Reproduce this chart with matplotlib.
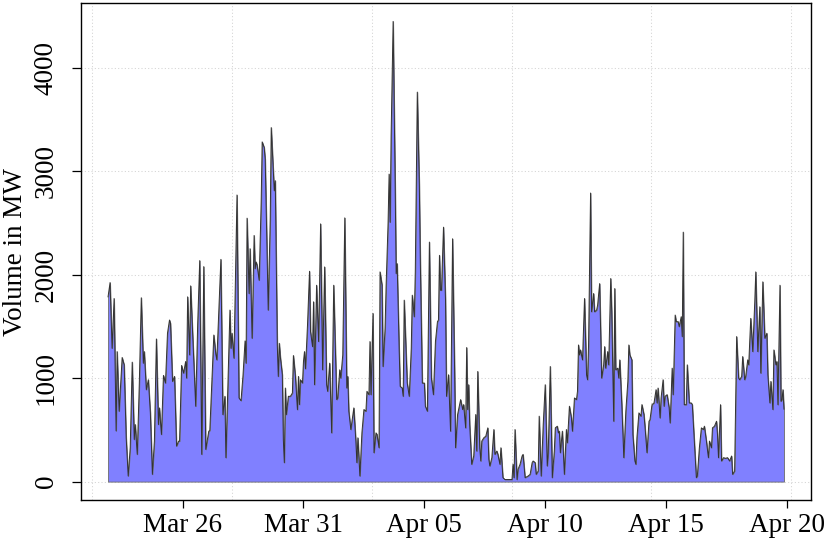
import numpy as np
import pandas as pd
import matplotlib
matplotlib.use("Agg")
import matplotlib.pyplot as plt

plt.rcParams["font.family"] = ["Liberation Serif", "DejaVu Serif"]
FS = 19.5

# --- data: hourly volume (hours after series start) ---
start = pd.Timestamp("2015-03-22 22:00")

hours = [
    0, 2, 4, 6, 8, 9, 11, 13, 14, 16,
    18, 20, 22, 24, 26, 27, 29, 31, 33, 35,
    36, 38, 40, 42, 44, 46, 48, 50, 51, 53,
    55, 57, 59, 61, 62, 64, 66, 68, 70, 71,
    73, 75, 77, 78, 79, 81, 82, 84, 87, 89,
    91, 93, 95, 97, 100, 101, 103, 105, 107, 108,
    109, 112, 114, 116, 117, 119, 121, 122, 123, 125,
    128, 130, 132, 134, 136, 137, 138, 140, 141, 143,
    145, 146, 147, 148, 150, 152, 153, 155, 156, 159,
    161, 162, 165, 166, 168, 169, 170, 171, 173, 174,
    175, 176, 177, 179, 181, 183, 184, 186, 188, 189,
    190, 191, 193, 194, 195, 196, 198, 200, 201, 203,
    204, 205, 207, 209, 211, 213, 215, 217, 218, 220,
    222, 224, 227, 228, 230, 231, 233, 235, 237, 238,
    239, 241, 244, 246, 247, 248, 250, 252, 254, 256,
    257, 259, 260, 261, 263, 264, 266, 267, 269, 270,
    272, 273, 275, 276, 278, 279, 280, 281, 283, 285,
    286, 287, 289, 290, 292, 293, 294, 297, 299, 301,
    302, 304, 305, 307, 309, 310, 312, 314, 315, 317,
    319, 321, 323, 325, 327, 328, 329, 330, 331, 333,
    335, 336, 338, 340, 342, 344, 345, 347, 350, 352,
    353, 355, 356, 357, 358, 359, 361, 363, 365, 366,
    367, 369, 370, 371, 373, 375, 377, 378, 379, 381,
    383, 384, 386, 387, 389, 390, 392, 394, 397, 400,
    401, 402, 403, 404, 406, 407, 409, 411, 412, 414,
    417, 419, 421, 422, 424, 425, 427, 428, 430, 432,
    434, 436, 437, 439, 441, 443, 444, 446, 447, 448,
    449, 451, 453, 455, 456, 458, 460, 461, 463, 465,
    466, 467, 468, 469, 471, 473, 475, 476, 477, 479,
    480, 482, 483, 485, 486, 488, 490, 492, 493, 494,
    496, 497, 499, 500, 502, 503, 504, 506, 507, 508,
    510, 512, 514, 516, 517, 518, 520, 521, 523, 524,
    525, 527, 529, 530, 532, 533, 535, 537, 538, 540,
    542, 544, 545, 546, 548, 549, 551, 552, 553, 555,
    557, 558, 560, 561, 563, 564, 566, 567, 569, 570,
    571, 572, 574, 575, 577, 579, 580, 582, 584, 585,
    587, 589, 591, 592, 594, 596, 597, 599, 600, 602,
    604, 605, 606, 608, 609, 611, 613, 615, 617, 619,
    620, 622, 624, 626, 627, 629, 630, 632, 633, 635,
    636, 638, 640, 642, 643, 645, 647, 648, 650, 652,
    654, 655, 657, 658, 660, 661, 663, 664, 665, 667,
    668, 669, 670, 671,
]

volume = [
    1785, 1923, 1288, 1769, 490, 1256, 680, 1032, 1199, 1128,
    423, 54, 327, 1154, 407, 551, 263, 936, 1776, 1144,
    1256, 888, 984, 664, 70, 391, 1378, 551, 712, 455,
    1026, 952, 1433, 1561, 1529, 968, 1016, 343, 391, 391,
    1122, 1048, 1160, 1000, 1785, 1224, 1891, 1416, 728, 1529,
    2135, 263, 2077, 311, 487, 493, 960, 1416, 1230, 1176,
    1416, 2147, 647, 824, 231, 936, 1657, 1288, 1433, 1192,
    2769, 808, 782, 1032, 1359, 1144, 2545, 1817, 2250, 1385,
    2378, 2058, 2122, 2090, 1945, 2699, 3282, 3228, 3115, 1657,
    2538, 3420, 2811, 2907, 1320, 1016, 1336, 1208, 1032, 407,
    183, 904, 647, 824, 824, 856, 1218, 1016, 695, 1016,
    744, 984, 952, 1160, 1256, 1090, 1513, 2032, 1449, 1304,
    1737, 936, 1897, 1353, 2490, 1080, 2074, 936, 872, 1144,
    471, 1897, 792, 808, 1080, 1000, 1224, 2548, 904, 1016,
    680, 503, 712, 391, 183, 423, 54, 471, 696, 680,
    872, 840, 1353, 840, 1625, 279, 471, 455, 327, 2026,
    1897, 1112, 1481, 1881, 2506, 2971, 2506, 3340, 4446, 2891,
    2010, 2106, 1272, 920, 904, 824, 1753, 952, 824, 1288,
    1801, 1593, 2026, 3763, 2859, 2122, 952, 952, 728, 680,
    2314, 1000, 840, 1353, 1545, 1561, 2186, 1849, 1849, 2458,
    1753, 824, 1032, 487, 2346, 1096, 327, 648, 792, 696,
    744, 519, 1295, 696, 936, 551, 167, 247, 648, 295,
    1064, 327, 199, 391, 423, 439, 519, 215, 151, 231,
    503, 263, 295, 263, 167, 327, 38, 20, 20, 20,
    20, 167, 38, 503, 20, 119, 167, 247, 263, 38,
    54, 70, 183, 199, 183, 70, 102, 632, 54, 551,
    936, 151, 279, 1112, 38, 295, 519, 535, 471, 487,
    279, 487, 70, 503, 375, 728, 615, 487, 808, 792,
    872, 1320, 1224, 1272, 1176, 1769, 1032, 984, 1320, 2788,
    1641, 1817, 1641, 1657, 1705, 1913, 1000, 1128, 1304, 1096,
    1256, 1128, 1962, 1641, 583, 1865, 1080, 1096, 1000, 1176,
    744, 231, 680, 968, 1320, 1224, 1176, 455, 199, 167,
    423, 664, 632, 744, 648, 535, 279, 583, 599, 744,
    760, 888, 760, 904, 615, 808, 984, 728, 824, 840,
    712, 567, 1096, 840, 1609, 1545, 1545, 1497, 1593, 1401,
    2410, 743, 743, 1128, 760, 760, 743, 391, 38, 54,
    327, 519, 503, 535, 391, 231, 391, 327, 519, 535,
    583, 455, 231, 743, 199, 231, 225, 231, 199, 247,
    70, 102, 1401, 1000, 984, 1016, 1208, 984, 1016, 1176,
    1128, 1577, 1256, 1737, 2026, 1256, 1689, 1048, 1930, 1385,
    1433, 1032, 760, 968, 696, 1272, 1128, 1160, 743, 1897,
    776, 791, 888, 700,
]
assert len(hours) == len(volume)

tick_dates = pd.date_range("2015-03-26", periods=6, freq="5D")
y_ticks = [0, 1000, 2000, 3000, 4000]

t = start + pd.to_timedelta(hours, unit="h")
v = np.array(volume, dtype=float)

# --- figure ---
fig = plt.figure(figsize=(8.3, 5.54), dpi=100)
ax = fig.add_axes([81 / 830, 1 - 500 / 554, 730 / 830, 497 / 554])

# R-style 4% padding on both axes
span = t[-1] - t[0]
ax.set_xlim(t[0] - 0.04 * span, t[-1] + 0.04 * span)
ax.set_ylim(-0.04 * v.max(), 1.04 * v.max())

# grid like R's grid(): y at ticks, x at "pretty" numeric seconds (500000 s steps)
dots = (0, (1, 2.2))
for y in y_ticks:
    ax.axhline(y, color="lightgray", ls=dots, lw=0.75, zorder=0)
grid_t = pd.to_datetime(np.arange(2854, 2860) * 500000, unit="s") + pd.Timedelta(hours=1)
for g in grid_t:
    ax.axvline(g, color="lightgray", ls=dots, lw=0.75, zorder=0)

ax.fill_between(t, v, 0, facecolor="#8080ff", edgecolor="#6a6a6a", lw=0.6, zorder=2)
ax.plot(t, v, color="#333333", lw=0.7, zorder=3)

ax.set_xticks(tick_dates)
ax.set_xticklabels([d.strftime("%b %d") for d in tick_dates], fontsize=FS)
ax.set_yticks(y_ticks)
ax.set_yticklabels([str(y) for y in y_ticks], fontsize=FS, rotation=90, va="center")

ax.tick_params(axis="x", direction="out", length=6, width=0.9, pad=3.6)
ax.tick_params(axis="y", direction="out", length=6.5, width=0.9, pad=9.5)

for s in ax.spines.values():
    s.set_linewidth(1.0)
    s.set_color("black")

ax.set_ylabel("Volume in MW", fontsize=FS, va="center")
ax.yaxis.set_label_coords(-0.0896, 0.5)

fig.savefig("out.png", dpi=100)
